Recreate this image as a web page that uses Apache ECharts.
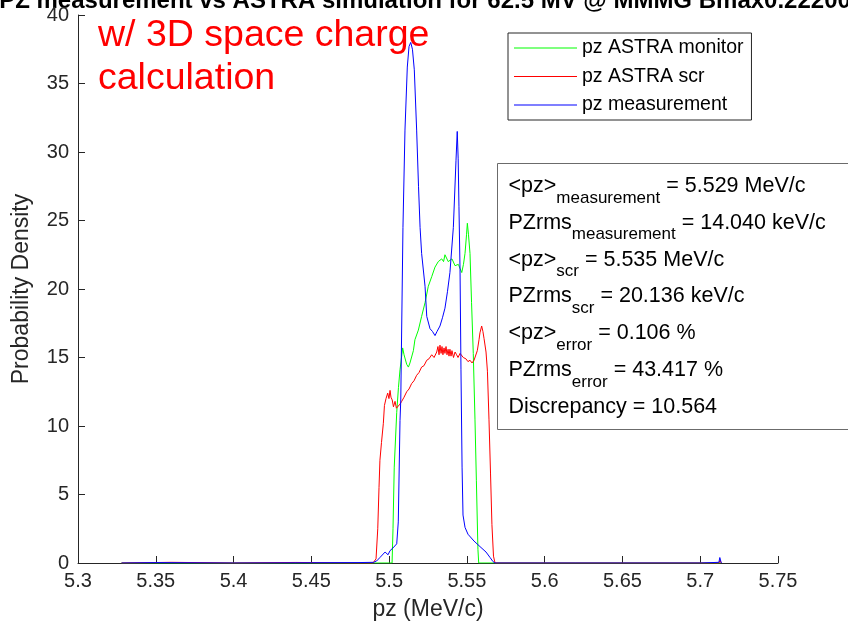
<!DOCTYPE html>
<html>
<head>
<meta charset="utf-8">
<script src="https://cdn.jsdelivr.net/npm/echarts@6/dist/echarts.min.js"></script>
<style>
  html, body { margin: 0; padding: 0; background: #fff; }
  #chart { width: 848px; height: 629px; }
</style>
</head>
<body>
<div id="chart"></div>
<script>
// Longitudinal momentum distributions (pz in MeV/c vs probability density)

// pz ASTRA monitor
const monitorPz = [5.328, 5.40, 5.45, 5.50, 5.5019, 5.5025, 5.5033, 5.5049, 5.5060, 5.5070, 5.5087, 5.5096, 5.5113, 5.5124, 5.5134, 5.5156, 5.5166, 5.5188, 5.5209, 5.5231, 5.5252, 5.5274, 5.5295, 5.5316, 5.5338, 5.5350, 5.5359, 5.5370, 5.5380, 5.5391, 5.5404, 5.5424, 5.5445, 5.5456, 5.5467, 5.5478, 5.5488, 5.5498, 5.5503, 5.5510, 5.5520, 5.5530, 5.5541, 5.5552, 5.5561, 5.5571, 5.5576, 5.60, 5.65, 5.713];
const monitorDensity = [0, 0, 0, 0, 0, 2.5, 7.0, 11.0, 12.8, 14.1, 15.7, 15.2, 14.5, 14.3, 14.6, 15.5, 16.3, 17.0, 18.0, 19.0, 20.2, 20.9, 21.6, 22.0, 22.2, 22.0, 22.5, 22.4, 22.0, 21.9, 22.2, 21.7, 21.8, 21.5, 21.2, 21.8, 22.6, 24.0, 24.8, 24.0, 22.6, 19.0, 15.3, 10.5, 6.0, 1.0, 0, 0, 0, 0];

// pz ASTRA scr
const scrPz = [5.328, 5.36, 5.40, 5.44, 5.48, 5.4896, 5.4916, 5.4927, 5.4935, 5.4941, 5.4951, 5.4963, 5.4970, 5.4980, 5.4991, 5.4999, 5.5006, 5.5012, 5.5020, 5.5028, 5.5038, 5.5047, 5.5059, 5.5070, 5.5081, 5.5096, 5.5113, 5.5128, 5.5145, 5.5160, 5.5177, 5.5192, 5.5209, 5.5224, 5.5242, 5.5256, 5.5274, 5.5289, 5.5306, 5.5314, 5.5321, 5.5327, 5.5334, 5.5340, 5.5346, 5.5353, 5.5359, 5.5366, 5.5372, 5.5379, 5.5385, 5.5391, 5.5398, 5.5404, 5.5414, 5.5424, 5.5434, 5.5443, 5.5456, 5.5477, 5.5494, 5.5507, 5.5520, 5.5533, 5.5546, 5.5552, 5.5567, 5.5578, 5.5584, 5.5595, 5.5603, 5.5610, 5.5623, 5.5632, 5.5642, 5.5652, 5.5661, 5.5671, 5.5681, 5.62, 5.68, 5.712, 5.7128, 5.7135];
const scrDensity = [0, 0.05, 0, 0.04, 0, 0, 0.3, 2.5, 5.5, 7.5, 8.8, 10.2, 11.5, 12.0, 12.4, 12.0, 12.6, 12.1, 11.9, 11.4, 11.8, 11.3, 11.4, 11.6, 11.8, 12.1, 12.5, 12.7, 13.1, 13.3, 13.7, 13.9, 14.3, 14.4, 14.8, 14.9, 15.2, 15.0, 15.4, 15.8, 15.2, 15.9, 15.3, 15.8, 15.2, 15.7, 15.3, 15.8, 15.2, 15.6, 15.1, 15.6, 15.1, 15.5, 15.0, 15.4, 15.2, 15.0, 15.3, 15.0, 14.9, 14.7, 14.8, 14.6, 14.8, 14.9, 15.5, 16.3, 16.8, 17.3, 16.9, 16.4, 15.4, 14.0, 10.5, 6.5, 2.8, 0.5, 0, 0, 0, 0, 0.2, 0];

// pz measurement
const measPz = [5.328, 5.35, 5.40, 5.45, 5.48, 5.49, 5.4920, 5.4941, 5.4974, 5.4993, 5.5006, 5.5025, 5.5049, 5.5059, 5.5070, 5.5075, 5.5089, 5.5102, 5.5117, 5.5128, 5.5139, 5.5150, 5.5162, 5.5177, 5.5189, 5.5199, 5.5209, 5.5231, 5.5242, 5.5263, 5.5279, 5.5295, 5.5308, 5.5327, 5.5343, 5.5359, 5.5375, 5.5391, 5.5413, 5.5430, 5.5438, 5.5444, 5.5449, 5.5456, 5.5462, 5.5469, 5.5475, 5.5488, 5.5507, 5.5546, 5.5584, 5.5623, 5.5649, 5.5668, 5.5681, 5.60, 5.65, 5.70, 5.712, 5.7126, 5.7133, 5.7136];
const measDensity = [0, 0.03, 0, 0.02, 0.03, 0.05, 0.15, 0.4, 0.8, 0.6, 0.9, 1.1, 1.4, 3.0, 10.4, 11.9, 24.5, 31.6, 36.2, 37.7, 38.0, 37.5, 36.0, 31.6, 27.5, 24.5, 22.6, 20.2, 18.0, 17.1, 16.9, 16.6, 16.9, 17.3, 17.9, 18.6, 19.8, 21.2, 24.5, 29.4, 31.5, 29.5, 26.0, 21.4, 14.1, 7.0, 3.5, 2.6, 2.1, 1.6, 1.2, 0.8, 0.4, 0.1, 0, 0, 0, 0, 0.05, 0.4, 0.1, 0];

// Axis ticks
const xTicks = [5.3, 5.35, 5.4, 5.45, 5.5, 5.55, 5.6, 5.65, 5.7, 5.75];
const yTicks = [0, 5, 10, 15, 20, 25, 30, 35, 40];

// Summary statistics box: [main, subscript, rest]
const statRows = [
  ['<pz>', 'measurement', ' = 5.529 MeV/c'],
  ['PZrms', 'measurement', ' = 14.040 keV/c'],
  ['<pz>', 'scr', ' = 5.535 MeV/c'],
  ['PZrms', 'scr', ' = 20.136 keV/c'],
  ['<pz>', 'error', ' = 0.106 %'],
  ['PZrms', 'error', ' = 43.417 %'],
  ['Discrepancy = 10.564', '', '']
];

const FONT = "'Liberation Sans', Arial, Helvetica, sans-serif";
const AXIS_COLOR = '#262626';

const zip = (xs, ys) => xs.map((x, i) => [x, ys[i]]);

// measure text widths so subscripts can be placed after their base text
const measureCtx = document.createElement('canvas').getContext('2d');
function textWidth(str, size) {
  measureCtx.font = size + 'px ' + FONT;
  return measureCtx.measureText(str).width;
}

const statGraphics = [];
statGraphics.push({
  type: 'rect',
  shape: { x: 497.5, y: 163.5, width: 400, height: 266 },
  style: { fill: '#fff', stroke: '#6b6b6b', lineWidth: 1 },
  z: 100
});
const MAIN_SIZE = 21.5, SUB_SIZE = 17;
statRows.forEach((row, i) => {
  const cy = 186 + i * 36.8;
  let x = 508.5;
  const [main, sub, rest] = row;
  statGraphics.push({
    type: 'text', x: x, y: cy, z: 101,
    style: { text: main, fontSize: MAIN_SIZE, fontFamily: FONT, fill: '#000', verticalAlign: 'middle', align: 'left' }
  });
  x += textWidth(main, MAIN_SIZE);
  if (sub) {
    statGraphics.push({
      type: 'text', x: x, y: cy + 12, z: 101,
      style: { text: sub, fontSize: SUB_SIZE, fontFamily: FONT, fill: '#000', verticalAlign: 'middle', align: 'left' }
    });
    x += textWidth(sub, SUB_SIZE);
  }
  if (rest) {
    statGraphics.push({
      type: 'text', x: x, y: cy, z: 101,
      style: { text: rest, fontSize: MAIN_SIZE, fontFamily: FONT, fill: '#000', verticalAlign: 'middle', align: 'left' }
    });
  }
});

const chart = echarts.init(document.getElementById('chart'), null, { renderer: 'canvas' });

const legendNames = ['pz ASTRA monitor', 'pz ASTRA scr', 'pz measurement'];

chart.setOption({
  animation: false,
  backgroundColor: '#fff',
  grid: { left: 78, right: 70, top: 15, bottom: 66, containLabel: false },
  xAxis: {
    type: 'value',
    min: xTicks[0],
    max: xTicks[xTicks.length - 1],
    interval: 0.05,
    name: 'pz (MeV/c)',
    nameLocation: 'middle',
    nameGap: 35,
    nameTextStyle: { fontSize: 23, fontFamily: FONT, color: AXIS_COLOR },
    axisLine: { show: true, onZero: false, lineStyle: { color: AXIS_COLOR, width: 1 } },
    axisTick: { show: true, inside: true, length: 7, lineStyle: { color: AXIS_COLOR } },
    axisLabel: {
      fontSize: 20, fontFamily: FONT, color: AXIS_COLOR, margin: 8,
      formatter: v => String(+v.toFixed(2))
    },
    splitLine: { show: false }
  },
  yAxis: {
    type: 'value',
    min: yTicks[0],
    max: yTicks[yTicks.length - 1],
    interval: 5,
    name: 'Probability Density',
    nameLocation: 'middle',
    nameGap: 45,
    nameTextStyle: { fontSize: 23, fontFamily: FONT, color: AXIS_COLOR },
    axisLine: { show: true, lineStyle: { color: AXIS_COLOR, width: 1 } },
    axisTick: { show: true, inside: true, length: 7, lineStyle: { color: AXIS_COLOR } },
    axisLabel: { fontSize: 20, fontFamily: FONT, color: AXIS_COLOR, margin: 9 },
    splitLine: { show: false }
  },
  legend: {
    orient: 'vertical',
    left: 508,
    top: 33,
    padding: [5, 8, 5, 6],
    itemGap: 8.5,
    itemWidth: 63,
    itemHeight: 1,
    borderColor: AXIS_COLOR,
    borderWidth: 1,
    backgroundColor: '#fff',
    textStyle: { fontSize: 19.5, lineHeight: 19, fontFamily: FONT, color: '#000' },
    data: legendNames.map(n => ({ name: n, icon: 'rect' }))
  },
  graphic: [
    {
      type: 'text', x: 425, y: 13,
      style: {
        text: 'PZ measurement vs ASTRA simulation for 62.5 MV @ MMMG Bmax0.22200',
        fontSize: 24, fontWeight: 'bold', fontFamily: FONT, fill: '#000',
        align: 'center', verticalAlign: 'bottom'
      }
    },
    {
      type: 'text', x: 98, y: 14,
      style: {
        text: 'w/ 3D space charge\ncalculation',
        fontSize: 37.5, fontFamily: FONT, fill: '#ff0000', lineHeight: 43,
        align: 'left', verticalAlign: 'top'
      },
      z: 50
    },
    ...statGraphics
  ],
  series: [
    {
      name: 'pz ASTRA monitor', type: 'line', data: zip(monitorPz, monitorDensity),
      showSymbol: false, symbol: 'none', color: '#00ff00',
      lineStyle: { width: 1, color: '#00ff00' }, z: 2
    },
    {
      name: 'pz ASTRA scr', type: 'line', data: zip(scrPz, scrDensity),
      showSymbol: false, symbol: 'none', color: '#ff0000',
      lineStyle: { width: 1, color: '#ff0000' }, z: 3
    },
    {
      name: 'pz measurement', type: 'line', data: zip(measPz, measDensity),
      showSymbol: false, symbol: 'none', color: '#0000ff',
      lineStyle: { width: 1, color: '#0000ff' }, z: 4
    }
  ]
});
</script>
</body>
</html>
